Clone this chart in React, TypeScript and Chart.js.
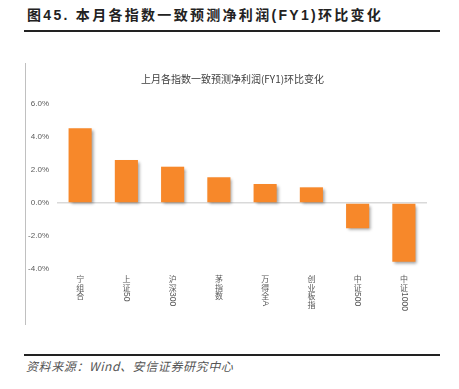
import React, { useEffect, useRef } from "react";
import { Chart, registerables } from "chart.js";

Chart.register(...registerables);

const pageTitle = "图45. 本月各指数一致预测净利润(FY1)环比变化";
const chartTitle = "上月各指数一致预测净利润(FY1)环比变化";
const sourceText = "资料来源：Wind、安信证券研究中心";
const categories = ["宁组合", "上证50", "沪深300", "茅指数", "万得全A", "创业板指", "中证500", "中证1000"];
const values = [4.53, 2.6, 2.2, 1.56, 1.15, 0.95, -1.53, -3.56];
const yMin = -4;
const yMax = 6;
const yStep = 2;

const FONT = '"Liberation Sans", "Noto Sans CJK SC", sans-serif';
const CJK_FONT = '"Noto Sans CJK SC", "Liberation Sans", sans-serif';

const shadowPlugin = {
  id: "barShadow",
  beforeDatasetsDraw(chart: any) {
    const ctx = chart.ctx;
    ctx.save();
    ctx.shadowColor = "rgba(0,0,0,0.38)";
    ctx.shadowOffsetX = 2;
    ctx.shadowOffsetY = 2;
    ctx.shadowBlur = 3;
  },
  afterDatasetsDraw(chart: any) {
    chart.ctx.restore();
  },
};

const textPlugin = {
  id: "customText",
  afterDraw(chart: any) {
    const ctx = chart.ctx;
    const xs = chart.scales.x;
    ctx.save();
    // chart title
    ctx.fillStyle = "#404040";
    ctx.font = `10px ${CJK_FONT}`;
    ctx.textAlign = "center";
    ctx.textBaseline = "middle";
    ctx.fillText(chartTitle, 207.5, 16);
    // vertical x labels
    const fs = 8;
    ctx.fillStyle = "#595959";
    const top = chart.chartArea.bottom + 6;
    categories.forEach((label, i) => {
      const x = xs.getPixelForValue(i);
      let y = top;
      const runs = label.match(/[\u0000-\u00ff]+|[^\u0000-\u00ff]/g) || [];
      runs.forEach((run: string) => {
        if (/^[\u0000-\u00ff]+$/.test(run)) {
          ctx.font = `${fs + 0.5}px ${FONT}`;
          const w = ctx.measureText(run).width;
          ctx.save();
          ctx.translate(x, y);
          ctx.rotate(Math.PI / 2);
          ctx.textAlign = "left";
          ctx.textBaseline = "middle";
          ctx.fillText(run, 0, 0);
          ctx.restore();
          y += w;
        } else {
          ctx.font = `${fs}px ${CJK_FONT}`;
          ctx.textAlign = "center";
          ctx.textBaseline = "top";
          ctx.fillText(run, x, y);
          y += fs + 0.5;
        }
      });
    });
    ctx.restore();
  },
};

function ChartCanvas() {
  const ref = useRef<HTMLCanvasElement>(null);
  useEffect(() => {
    if (!ref.current) return;
    const chart = new Chart(ref.current, {
      type: "bar",
      data: {
        labels: categories,
        datasets: [
          {
            data: values,
            backgroundColor: "#F7882A",
            borderWidth: 0,
            barPercentage: 0.5,
            categoryPercentage: 1,
          },
        ],
      },
      options: {
        responsive: false,
        animation: false,
        devicePixelRatio: 1,
        layout: { padding: { top: 41, bottom: 56, right: 18, left: 0 } },
        plugins: {
          legend: { display: false },
          title: { display: false },
          tooltip: { enabled: false },
        },
        scales: {
          x: {
            display: true,
            ticks: { display: false },
            grid: { display: false, drawTicks: false },
            border: { display: false },
          },
          y: {
            min: yMin,
            max: yMax,
            afterFit: (s: any) => {
              s.width = 32;
            },
            ticks: {
              stepSize: yStep,
              padding: 8,
              color: "#595959",
              font: { family: FONT, size: 8 },
              callback: (v: any) => Number(v).toFixed(1) + "%",
            },
            grid: {
              drawTicks: false,
              lineWidth: 1.5,
              color: (c: any) => (c.tick && c.tick.value === 0 ? "#d9d9d9" : "rgba(0,0,0,0)"),
            },
            border: { display: false },
          },
        },
      },
      plugins: [shadowPlugin, textPlugin],
    });
    return () => chart.destroy();
  }, []);
  return (
    <canvas
      ref={ref}
      width={420}
      height={262}
      style={{ position: "absolute", left: 25, top: 63, width: 420, height: 262 }}
    />
  );
}

export default function App() {
  return (
    <div style={{ position: "absolute", left: 0, top: 0, width: 459, height: 389, background: "#fff", overflow: "hidden" }}>
      <div
        style={{
          position: "absolute",
          left: 27,
          top: 6,
          fontFamily: FONT,
          fontWeight: "bold",
          fontSize: 14,
          letterSpacing: 2.3,
          color: "#222",
          whiteSpace: "nowrap",
          lineHeight: "18px",
        }}
      >
        {pageTitle}
      </div>
      <div style={{ position: "absolute", left: 24, top: 30, width: 416, height: 2, background: "#222" }} />
      <div style={{ position: "absolute", left: 25, top: 63, width: 1, height: 262, background: "#c0c0c0" }} />
      <ChartCanvas />
      <div style={{ position: "absolute", left: 24, top: 354, width: 416, height: 2, background: "#222" }} />
      <div
        style={{
          position: "absolute",
          left: 26,
          top: 358,
          fontFamily: CJK_FONT,
          fontStyle: "italic",
          fontSize: 12,
          letterSpacing: 0.6,
          color: "#555",
          whiteSpace: "nowrap",
          lineHeight: "16px",
        }}
      >
        {sourceText}
      </div>
    </div>
  );
}
